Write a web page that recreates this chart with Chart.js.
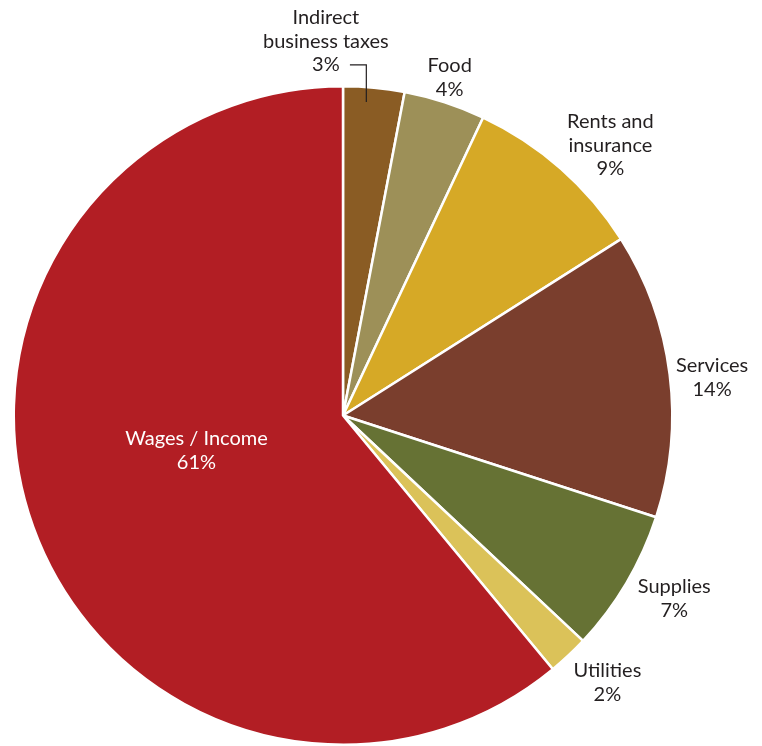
<!DOCTYPE html>
<html>
<head>
<meta charset="utf-8">
<script src="https://cdn.jsdelivr.net/npm/chart.js@4/dist/chart.umd.min.js"></script>
<style>
  html, body { margin: 0; padding: 0; background: #ffffff; }
  #wrap { position: relative; width: 762px; height: 746px; }
</style>
</head>
<body>
<div id="wrap"><canvas id="c" width="762" height="746"></canvas></div>
<script>
// ---- data ----
const categories = ["Indirect business taxes", "Food", "Rents and insurance", "Services", "Supplies", "Utilities", "Wages / Income"];
const labelLines = [["Indirect", "business taxes"], ["Food"], ["Rents and", "insurance"], ["Services"], ["Supplies"], ["Utilities"], ["Wages / Income"]];
const shares = [3, 4, 9, 14, 7, 2, 61];
const sliceColors = ["#8A5C24", "#9D9058", "#D6A926", "#7A3E2D", "#667234", "#DBC259", "#B21E24"];

// label placement relative to pie centre, in units of radius (layout, not data)
const labelPos = [[-0.052, -1.136], [0.324, -1.027], [0.812, -0.821], [1.121, -0.115], [1.006, 0.556], [0.803, 0.811], [-0.445, 0.106]];
const labelColor = ["#231F20", "#231F20", "#231F20", "#231F20", "#231F20", "#231F20", "#ffffff"];

const FONT = '20px Lato, "Open Sans", sans-serif';
const LINE_H = 23.5;

const labelPlugin = {
  id: 'outLabels',
  afterDatasetsDraw(chart) {
    const ctx = chart.ctx;
    const meta = chart.getDatasetMeta(0);
    const arc0 = meta.data[0];
    const cx = arc0.x, cy = arc0.y, R = arc0.outerRadius;
    ctx.save();
    ctx.font = FONT;
    ctx.textAlign = 'center';
    ctx.textBaseline = 'middle';
    meta.data.forEach((arc, i) => {
      const lines = labelLines[i].concat([shares[i] + '%']);
      const x = cx + labelPos[i][0] * R;
      const y = cy + labelPos[i][1] * R;
      ctx.fillStyle = labelColor[i];
      const top = y - (lines.length - 1) * LINE_H / 2;
      lines.forEach((t, k) => ctx.fillText(t, x, top + k * LINE_H));
    });
    // leader line for the small first slice
    const a = meta.data[0];
    const mid = (a.startAngle + a.endAngle) / 2 - 0.02;
    const ex = cx + Math.cos(mid) * R * 0.955;
    const ey = cy + Math.sin(mid) * R * 0.955;
    const ly = cy + labelPos[0][1] * R + LINE_H;
    ctx.strokeStyle = '#231F20';
    ctx.lineWidth = 1.2;
    ctx.beginPath();
    ctx.moveTo(cx + 0.021 * R, ly);
    ctx.lineTo(ex, ly);
    ctx.lineTo(ex, ey);
    ctx.stroke();
    ctx.restore();
  }
};

new Chart(document.getElementById('c'), {
  type: 'pie',
  data: {
    labels: categories,
    datasets: [{
      data: shares,
      backgroundColor: sliceColors,
      borderColor: '#ffffff',
      borderWidth: 2.5,
      hoverOffset: 0
    }]
  },
  options: {
    responsive: false,
    animation: false,
    layout: { padding: { left: 12, top: 85, right: 88, bottom: 0 } },
    plugins: { legend: { display: false }, tooltip: { enabled: false } }
  },
  plugins: [labelPlugin]
});
</script>
</body>
</html>
